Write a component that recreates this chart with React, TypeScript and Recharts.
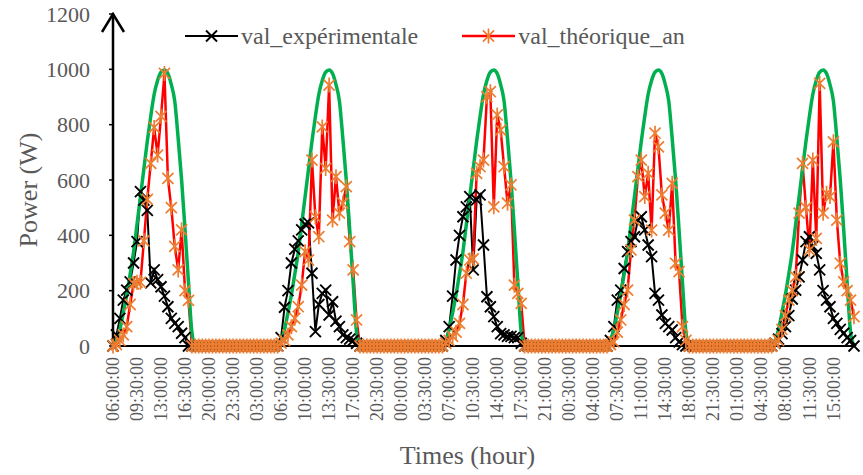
import React from "react";
import { LineChart, Line, XAxis, YAxis, Legend, Label } from "recharts";

const SERIF = "'Liberation Serif', 'Times New Roman', serif";
const GREY = "#595959";

// 30-minute samples, 06:00:00 on day 1 to 18:00:00 on day 5
const START_MINUTES = 6 * 60;
const STEP_MINUTES = 30;
const POINT_COUNT = 217;
const yTicks = [0, 200, 400, 600, 800, 1000, 1200];

// daytime values, 06:00 -> 18:00 (25 samples per day), night is 0
const expDays = [
  [0, 40, 100, 166, 202, 232, 300, 377, 558, 527, 490, 228, 275, 240, 214, 180, 142, 100, 82, 70, 46, 30, 0, 0, 0],
  [0, 30, 140, 200, 300, 350, 380, 420, 440, 445, 263, 52, 150, 190, 202, 112, 160, 90, 70, 40, 30, 25, 20, 10, 0],
  [0, 20, 70, 180, 311, 400, 467, 503, 540, 275, 528, 546, 365, 178, 142, 106, 70, 45, 40, 35, 35, 30, 30, 10, 0],
  [0, 20, 70, 166, 202, 280, 341, 377, 395, 455, 467, 420, 365, 323, 190, 166, 112, 82, 70, 58, 30, 15, 5, 0, 0],
  [0, 10, 25, 45, 70, 110, 170, 202, 250, 311, 377, 395, 360, 335, 275, 200, 166, 142, 100, 82, 60, 46, 30, 20, 0],
];

const theoDays = [
  [0, 5, 20, 40, 70, 150, 225, 230, 230, 380, 530, 660, 790, 690, 830, 985, 606, 500, 360, 275, 420, 200, 165, 0, 0],
  [0, 10, 20, 40, 70, 100, 142, 220, 341, 311, 672, 467, 395, 792, 642, 943, 455, 612, 480, 516, 576, 377, 275, 94, 0],
  [0, 10, 20, 35, 50, 82, 150, 263, 311, 315, 624, 648, 672, 901, 919, 503, 835, 780, 648, 516, 582, 220, 190, 154, 0],
  [0, 5, 15, 50, 94, 150, 202, 347, 455, 612, 672, 540, 624, 419, 769, 720, 546, 480, 419, 588, 299, 269, 70, 20, 0],
  [0, 10, 20, 60, 110, 166, 200, 250, 480, 660, 500, 347, 672, 389, 949, 480, 552, 540, 738, 455, 299, 232, 200, 166, 106],
];

// smooth green envelope, same every day
const envelopeDay = [0, 20, 60, 120, 185, 260, 340, 440, 540, 640, 740, 830, 910, 960, 990, 998, 985, 945, 885, 750, 600, 420, 230, 50, 0];

const times = Array.from({ length: POINT_COUNT }, (_, i) => {
  const m = (START_MINUTES + i * STEP_MINUTES) % (24 * 60);
  const h = String(Math.floor(m / 60)).padStart(2, "0");
  const mm = String(m % 60).padStart(2, "0");
  return `${h}:${mm}:00`;
});

const data = times.map((time, i) => {
  const day = Math.floor(i / 48);
  const k = i % 48;
  const inDay = k < 25;
  return {
    time,
    exp: inDay ? expDays[day][k] : 0,
    theo: inDay ? theoDays[day][k] : 0,
    env: inDay ? envelopeDay[k] : 0,
  };
});

function crossPath(cx: number, cy: number, r: number) {
  return `M${cx - r},${cy - r}L${cx + r},${cy + r}M${cx - r},${cy + r}L${cx + r},${cy - r}`;
}

function starPath(cx: number, cy: number, r: number) {
  const d = r * 0.85;
  return `${crossPath(cx, cy, d)}M${cx},${cy - r - 1}L${cx},${cy + r + 1}`;
}

const XDot = (props: any) => {
  const { cx, cy, index } = props;
  if (cx == null || cy == null) return <g key={`x-${index}`} />;
  return <path key={`x-${index}`} d={crossPath(cx, cy, 5.5)} stroke="#000" strokeWidth={1.9} fill="none" />;
};

const StarDot = (props: any) => {
  const { cx, cy, index } = props;
  if (cx == null || cy == null) return <g key={`s-${index}`} />;
  return <path key={`s-${index}`} d={starPath(cx, cy, 6.5)} stroke="#ED7D31" strokeWidth={1.7} fill="none" />;
};

const TimeTick = (props: any) => {
  const { x, y, payload } = props;
  return (
    <text
      x={x}
      y={y}
      transform={`rotate(-90 ${x} ${y})`}
      textAnchor="end"
      dy="0.34em"
      fill={GREY}
      fontSize={18}
      fontFamily={SERIF}
    >
      {payload.value}
    </text>
  );
};

const YTitle = (props: any) => {
  const { viewBox } = props;
  const x = viewBox.x + 37;
  const y = viewBox.y + viewBox.height / 2 + 10;
  return (
    <text x={x} y={y} transform={`rotate(-90 ${x} ${y})`} textAnchor="middle" fill={GREY} fontSize={26} fontFamily={SERIF}>
      Power (W)
    </text>
  );
};

const XTitle = (props: any) => {
  const { viewBox } = props;
  const x = viewBox.x + viewBox.width / 2 - 16;
  return (
    <text x={x} y={464} textAnchor="middle" fill={GREY} fontSize={26} fontFamily={SERIF}>
      Times (hour)
    </text>
  );
};

const LegendContent = (props: any) => {
  const items = (props.payload || []).filter((p: any) => p.type !== "none");
  return (
    <div style={{ display: "flex", alignItems: "center", height: 28 }}>
      {items.map((p: any, i: number) => {
        const isExp = p.dataKey === "exp";
        return (
          <div key={p.value} style={{ display: "flex", alignItems: "center", marginLeft: i === 0 ? 0 : 44 }}>
            <svg width={53} height={20}>
              <line x1={0} y1={10} x2={53} y2={10} stroke={isExp ? "#000" : "#FF0000"} strokeWidth={isExp ? 2 : 2.5} />
              {isExp ? (
                <path d={crossPath(26.5, 10, 5.5)} stroke="#000" strokeWidth={1.9} fill="none" />
              ) : (
                <path d={starPath(26.5, 10, 6.5)} stroke="#ED7D31" strokeWidth={1.7} fill="none" />
              )}
            </svg>
            <span style={{ marginLeft: 3, fontFamily: SERIF, fontSize: 24, color: GREY, lineHeight: "28px" }}>{p.value}</span>
          </div>
        );
      })}
    </div>
  );
};

export default function App() {
  return (
    <div style={{ position: "absolute", left: 0, top: 0, width: 863, height: 475, background: "#fff" }}>
      <LineChart width={863} height={475} data={data} margin={{ top: 14, right: 9, bottom: 0, left: 0 }}>
        <defs>
          <marker id="yArrow" markerUnits="userSpaceOnUse" markerWidth={30} markerHeight={30} refX={15} refY={2} viewBox="0 0 30 30">
            <path d="M4 20 L15 2 L26 20" fill="none" stroke="#000" strokeWidth={2.5} />
          </marker>
        </defs>
        <XAxis
          dataKey="time"
          interval={6}
          height={129}
          tickSize={6}
          tickMargin={5}
          tickLine={false}
          axisLine={{ stroke: "#000", strokeWidth: 2 }}
          tick={<TimeTick />}
          label={<Label content={XTitle} />}
        />
        <YAxis
          domain={[0, 1200]}
          ticks={yTicks}
          interval={0}
          width={113}
          tickSize={4}
          tickMargin={19}
          axisLine={{ stroke: "#000", strokeWidth: 2.5, markerStart: "url(#yArrow)" }}
          tickLine={{ stroke: "#000", strokeWidth: 1.5 }}
          tick={{ fill: GREY, fontSize: 22, fontFamily: SERIF }}
          label={<Label content={YTitle} />}
        />
        <Legend
          layout="horizontal"
          verticalAlign="middle"
          align="center"
          wrapperStyle={{ top: 22, left: 185, width: 620, height: 28 }}
          content={<LegendContent />}
        />
        <Line
          dataKey="exp"
          name="val_expérimentale"
          type="linear"
          stroke="#000"
          strokeWidth={2}
          dot={XDot}
          activeDot={false}
          isAnimationActive={false}
        />
        <Line
          dataKey="theo"
          name="val_théorique_an"
          type="linear"
          stroke="#FF0000"
          strokeWidth={2.5}
          dot={StarDot}
          activeDot={false}
          isAnimationActive={false}
        />
        <Line
          dataKey="env"
          name="enveloppe"
          type="monotone"
          stroke="#00B050"
          strokeWidth={3.5}
          dot={false}
          activeDot={false}
          legendType="none"
          isAnimationActive={false}
        />
      </LineChart>
    </div>
  );
}
